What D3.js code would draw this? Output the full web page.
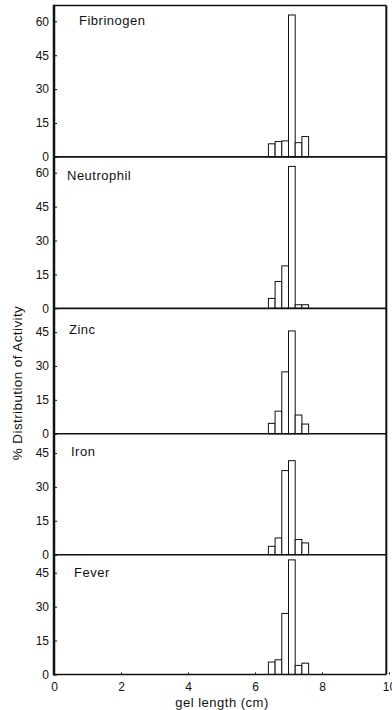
<!DOCTYPE html>
<html>
<head>
<meta charset="utf-8">
<script src="https://cdn.jsdelivr.net/npm/d3@7"></script>
<style>
  body { margin: 0; background: #fff; }
  svg text { font-family: "Liberation Sans", Arial, sans-serif; fill: #111; }
</style>
</head>
<body>
<div id="chart"></div>
<script>
// gel slices (cm), each 0.2 cm wide
const binStarts = [6.4, 6.6, 6.8, 7.0, 7.2, 7.4];
const binWidth = 0.2;

const panelNames = ['Fibrinogen', 'Neutrophil', 'Zinc', 'Iron', 'Fever'];
const fibrinogen = [5.8, 6.8, 7.1, 62.8, 6.3, 9.0];
const neutrophil = [4.4, 11.9, 18.8, 62.8, 1.6, 1.6];
const zinc       = [4.6, 10.0, 27.4, 45.5, 8.3, 4.3];
const iron       = [3.7, 7.4, 37.2, 41.6, 6.7, 5.2];
const fever      = [5.5, 6.5, 27.0, 50.7, 4.0, 5.0];
const panelValues = [fibrinogen, neutrophil, zinc, iron, fever];

// top of each panel's value range (%)
const panelMax = [67, 67, 55.5, 53.5, 53];
const yTicksTall = [0, 15, 30, 45, 60];
const yTicksShort = [0, 15, 30, 45];
const xTicks = [0, 2, 4, 6, 8, 10];

const width = 392, height = 710;
const marginLeft = 54, marginRight = 389, marginTop = 5.5;
const pxPerUnit = 2.26;

const svg = d3.select('#chart').append('svg')
  .attr('width', width)
  .attr('height', height);

const x = d3.scaleLinear().domain([0, 10]).range([marginLeft, marginRight]);

let y0 = marginTop;
panelNames.forEach((name, i) => {
  const h = panelMax[i] * pxPerUnit;
  const y = d3.scaleLinear().domain([0, panelMax[i]]).range([y0 + h, y0]);
  const g = svg.append('g');

  // bars
  g.selectAll('rect')
    .data(panelValues[i])
    .join('rect')
    .attr('x', (d, j) => x(binStarts[j]))
    .attr('width', x(binWidth) - x(0))
    .attr('y', d => y(d))
    .attr('height', d => y(0) - y(d))
    .attr('fill', '#fff')
    .attr('stroke', '#111')
    .attr('stroke-width', 1);

  // y axis ticks + labels
  const ticks = panelMax[i] > 60 ? yTicksTall : yTicksShort;
  const yAxis = d3.axisLeft(y).tickValues(ticks).tickSize(-3).tickPadding(5);
  g.append('g')
    .attr('transform', `translate(${marginLeft},0)`)
    .call(yAxis)
    .call(a => a.select('.domain').remove())
    .call(a => a.selectAll('line').attr('stroke', '#111'))
    .call(a => a.selectAll('text')
      .attr('font-size', 12)
      .attr('font-family', '"Liberation Sans", Arial, sans-serif')
      .attr('fill', '#111'));

  // baseline of the panel
  g.append('line')
    .attr('x1', marginLeft).attr('x2', x(9.92))
    .attr('y1', y(0)).attr('y2', y(0))
    .attr('stroke', '#111').attr('stroke-width', 1.6);

  // panel name
  g.append('text')
    .attr('x', [79, 67, 69, 71, 74][i])
    .attr('y', y0 + [19.5, 23, 25.5, 22, 22][i])
    .attr('font-size', 13)
    .attr('letter-spacing', 0.5)
    .text(name);

  y0 += h;
});

// frame: top, right, left axis
svg.append('line')
  .attr('x1', marginLeft).attr('x2', x(9.92))
  .attr('y1', marginTop).attr('y2', marginTop)
  .attr('stroke', '#111').attr('stroke-width', 1.5);
svg.append('line')
  .attr('x1', x(9.92)).attr('x2', x(9.92))
  .attr('y1', marginTop).attr('y2', y0)
  .attr('stroke', '#111').attr('stroke-width', 2);
svg.append('line')
  .attr('x1', marginLeft).attr('x2', marginLeft)
  .attr('y1', marginTop - 0.7).attr('y2', y0 + 1)
  .attr('stroke', '#111').attr('stroke-width', 2.5);

// x axis
const xAxis = d3.axisBottom(x).tickValues(xTicks).tickSize(-2).tickPadding(8);
svg.append('g')
  .attr('transform', `translate(0,${y0})`)
  .call(xAxis)
  .call(a => a.select('.domain').remove())
  .call(a => a.selectAll('line').attr('stroke', '#111'))
  .call(a => a.selectAll('text')
    .attr('font-size', 12)
    .attr('font-family', '"Liberation Sans", Arial, sans-serif')
    .attr('fill', '#111'));

svg.append('text')
  .attr('x', 222)
  .attr('y', 707)
  .attr('text-anchor', 'middle')
  .attr('font-size', 13)
  .attr('letter-spacing', 0.5)
  .text('gel length (cm)');

svg.append('text')
  .attr('transform', 'translate(22,383) rotate(-90)')
  .attr('text-anchor', 'middle')
  .attr('font-size', 13.5)
  .attr('letter-spacing', 0.4)
  .text('% Distribution of Activity');
</script>
</body>
</html>
